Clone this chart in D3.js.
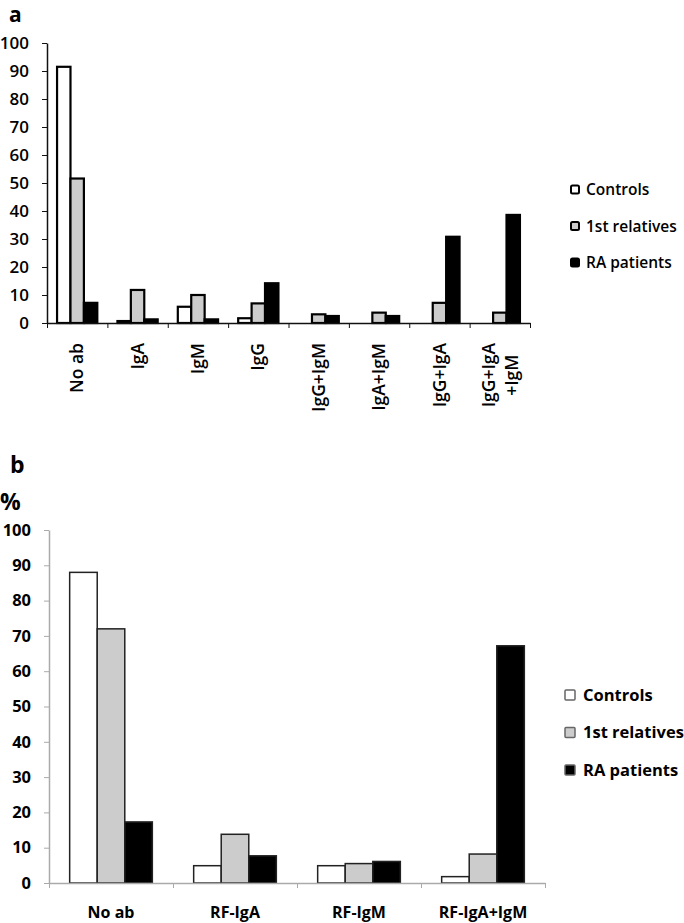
<!DOCTYPE html>
<html><head><meta charset="utf-8">
<script src="https://cdn.jsdelivr.net/npm/d3@7"></script>
<style>
body{margin:0;background:#fff;}
svg{display:block;}
text{font-family:"Open Sans",sans-serif;}
</style></head>
<body>
<svg id="c" width="684" height="923"></svg>
<script>
// ---- data: panel a ----
const categoriesA = ["No ab","IgA","IgM","IgG","IgG+IgM","IgA+IgM","IgG+IgA","IgG+IgA+IgM"];
const labelLinesA = [["No ab"],["IgA"],["IgM"],["IgG"],["IgG+IgM"],["IgA+IgM"],["IgG+IgA"],["IgG+IgA","+IgM"]];
const controlsA  = [91.5, 0.7, 5.8, 1.7, 0, 0, 0, 0];
const relativesA = [51.6, 11.8, 10, 7, 3.1, 3.7, 7.2, 3.7];
const patientsA  = [7.2, 1.3, 1.3, 14.2, 2.5, 2.5, 30.8, 38.6];
// ---- data: panel b ----
const categoriesB = ["No ab","RF-IgA","RF-IgM","RF-IgA+IgM"];
const controlsB  = [88, 4.9, 4.9, 1.8];
const relativesB = [72, 13.8, 5.5, 8.2];
const patientsB  = [17.3, 7.7, 6.1, 67.2];
const yTicks = [0,10,20,30,40,50,60,70,80,90,100];
const seriesNames = ["Controls","1st relatives","RA patients"];
const seriesFill = ["#ffffff","#cccccc","#000000"];

const svg = d3.select("#c");

function panel(opt){
  const {cats, series, x0, x1, yBase, yTop, axisColor, barStroke, barStrokeW, tickFont, tickWeight} = opt;
  const g = svg.append("g");
  const x = d3.scaleBand().domain(cats).range([x0, x1]).padding(0);
  const xi = d3.scaleBand().domain(d3.range(3)).range([x.bandwidth()/6, x.bandwidth()*5/6]).padding(0);
  const y = d3.scaleLinear().domain([0,100]).range([yBase, yTop]);
  const xl = d3.scaleLinear().domain([0, cats.length]).range([x0, x1]);

  cats.forEach((c, ci) => {
    series.forEach((s, si) => {
      const v = s[ci];
      if (v <= 0) return;
      g.append("rect")
        .attr("x", x(c) + xi(si))
        .attr("y", y(v))
        .attr("width", xi.bandwidth())
        .attr("height", y(0) - y(v))
        .attr("fill", seriesFill[si])
        .attr("stroke", barStroke)
        .attr("stroke-width", barStrokeW);
    });
  });

  const ya = g.append("g").attr("transform", `translate(${x0},0)`)
    .call(d3.axisLeft(y).tickValues(yTicks).tickSize(5).tickPadding(13).tickSizeOuter(0));
  ya.select(".domain").attr("stroke", axisColor).attr("stroke-width", 1.5);
  ya.selectAll(".tick line").attr("stroke", axisColor);
  ya.selectAll(".tick text").attr("font-family", "Open Sans, sans-serif")
    .attr("font-size", tickFont).attr("font-weight", tickWeight).attr("fill", "#000");

  const xa = g.append("g").attr("transform", `translate(0,${yBase})`)
    .call(d3.axisBottom(xl).tickValues(d3.range(cats.length+1)).tickFormat("").tickSize(5).tickSizeOuter(0));
  xa.select(".domain").attr("stroke", axisColor).attr("stroke-width", 1.5);
  xa.selectAll(".tick line").attr("stroke", axisColor);
  return {g, x, y};
}

// ---- panel a ----
const pa = panel({cats: categoriesA, series: [controlsA, relativesA, patientsA],
  x0: 47, x1: 530, yBase: 323, yTop: 43, axisColor: "#111", barStroke: "#000", barStrokeW: 2.2,
  tickFont: 17, tickWeight: 600});

const labFont = 17.5;
categoriesA.forEach((c, i) => {
  const cx = pa.x(c) + pa.x.bandwidth()/2;
  const lines = labelLinesA[i];
  if (lines.length === 1) {
    pa.g.append("text").attr("transform", `translate(${cx},343) rotate(-90)`)
      .attr("text-anchor", "end").attr("dy", "0.35em")
      .attr("font-size", labFont).attr("font-weight", 600).text(lines[0]);
  } else {
    const t1 = pa.g.append("text").attr("transform", `translate(${cx-11},343) rotate(-90)`)
      .attr("text-anchor", "end").attr("dy", "0.35em")
      .attr("font-size", labFont).attr("font-weight", 600).text(lines[0]);
    const len = t1.node().getComputedTextLength();
    pa.g.append("text").attr("transform", `translate(${cx+12},${343 + len/2}) rotate(-90)`)
      .attr("text-anchor", "middle").attr("dy", "0.35em")
      .attr("font-size", labFont).attr("font-weight", 600).text(lines[1]);
  }
});

svg.append("text").attr("x", 9).attr("y", 22).attr("font-family", "Liberation Sans, Arial, sans-serif")
  .attr("font-size", 21).attr("font-weight", 700).text("a");

const legA = svg.append("g");
seriesNames.forEach((n, i) => {
  const yy = 190 + i*36.5;
  legA.append("rect").attr("x", 571).attr("y", yy-4.5).attr("width", 8).attr("height", 8).attr("rx", 1.5)
    .attr("fill", seriesFill[i]).attr("stroke", "#000").attr("stroke-width", 2);
  legA.append("text").attr("x", 586).attr("y", yy).attr("dy", "0.35em")
    .attr("font-size", 15.5).attr("font-weight", 600).text(n);
});

// ---- panel b ----
const pb = panel({cats: categoriesB, series: [controlsB, relativesB, patientsB],
  x0: 49, x1: 545, yBase: 883, yTop: 530, axisColor: "#aaaaaa", barStroke: "#222", barStrokeW: 1.5,
  tickFont: 16.5, tickWeight: 700});

categoriesB.forEach(c => {
  pb.g.append("text").attr("x", pb.x(c) + pb.x.bandwidth()/2).attr("y", 918)
    .attr("text-anchor", "middle").attr("font-size", 16).attr("font-weight", 700).text(c);
});

svg.append("text").attr("x", 10).attr("y", 473).attr("font-size", 23).attr("font-weight", 700).text("b");
svg.append("text").attr("x", 0).attr("y", 510).attr("font-size", 23).attr("font-weight", 700).text("%");

const legB = svg.append("g");
seriesNames.forEach((n, i) => {
  const yy = 695 + i*37.5;
  legB.append("rect").attr("x", 565).attr("y", yy-5).attr("width", 10).attr("height", 10).attr("rx", 1)
    .attr("fill", seriesFill[i]).attr("stroke", "#666").attr("stroke-width", 1.5);
  legB.append("text").attr("x", 583).attr("y", yy).attr("dy", "0.35em")
    .attr("font-size", 16.5).attr("font-weight", 700).text(n);
});
</script>
</body></html>
